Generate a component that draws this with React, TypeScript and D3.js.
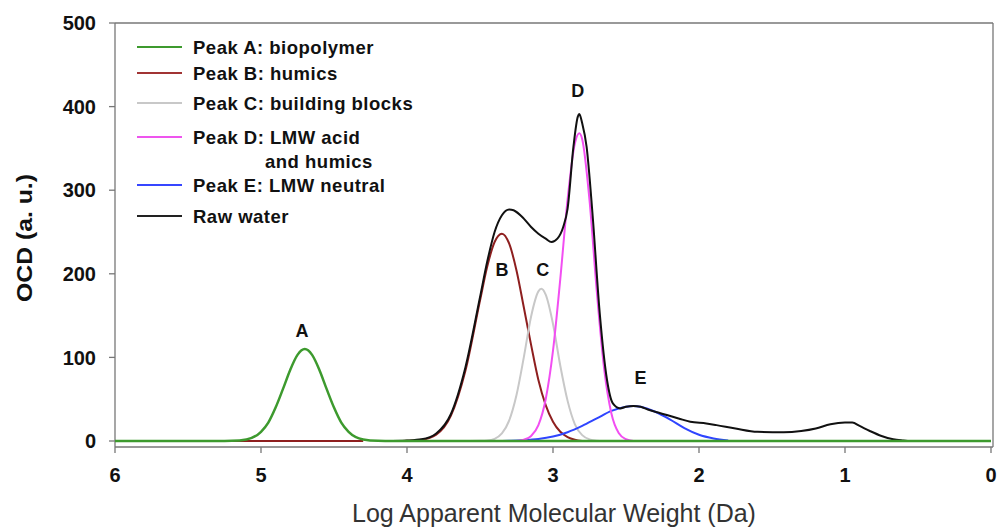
import React from "react";
import * as d3 from "d3";

// ---- data (log MW, OCD) ----
const peakA: [number, number][] = [
  [6, 0], [5.3, 0], [5.2, 0.2], [5.1, 1.9], [5.0, 11], [4.95, 22], [4.9, 40], [4.85, 62], [4.8, 85],
  [4.75, 103], [4.7, 110], [4.65, 103], [4.6, 85], [4.55, 62], [4.5, 40], [4.45, 22], [4.4, 11],
  [4.3, 1.9], [4.2, 0.2], [4.1, 0], [0, 0],
];
const peakB: [number, number][] = [
  [5.25, 0], [4.3, 0], [4.25, NaN], [4.08, 0], [4.0, 0.3], [3.9, 1.5], [3.8, 7.5], [3.7, 30], [3.6, 84],
  [3.5, 168], [3.45, 209], [3.4, 238], [3.35, 248], [3.3, 236], [3.25, 204], [3.2, 160],
  [3.15, 115], [3.1, 73], [3.05, 43], [3.0, 23], [2.95, 11], [2.9, 4.7], [2.85, 1.5], [2.8, 0],
];
const peakC: [number, number][] = [
  [3.6, 0], [3.5, 0.2], [3.45, 0.6], [3.4, 2.6], [3.35, 9], [3.3, 24.6], [3.25, 55], [3.2, 100],
  [3.15, 149], [3.1, 179], [3.08, 182], [3.05, 175], [3.0, 140], [2.95, 90], [2.9, 48],
  [2.85, 20], [2.8, 7], [2.75, 2], [2.7, 0.4], [2.65, 0],
];
const peakD: [number, number][] = [
  [3.25, 0], [3.2, 1.6], [3.15, 6], [3.1, 19], [3.05, 50], [3.0, 108], [2.95, 194], [2.9, 289],
  [2.85, 356], [2.82, 368], [2.8, 361], [2.75, 288], [2.7, 179], [2.65, 87], [2.6, 33],
  [2.55, 9.6], [2.5, 2.2], [2.45, 0],
];
const peakE: [number, number][] = [
  [3.42, 0], [3.3, 0.3], [3.2, 0.9], [3.1, 2.3], [3.0, 5.3], [2.9, 10.5], [2.8, 18], [2.7, 27],
  [2.6, 36], [2.5, 41], [2.45, 42], [2.4, 41], [2.3, 35], [2.2, 26], [2.1, 15.5], [2.0, 7.5],
  [1.9, 3], [1.8, 0.5],
];
const rawWater: [number, number][] = [
  [4.1, 0], [4.0, 0.5], [3.9, 2], [3.8, 9], [3.7, 32], [3.6, 88], [3.5, 172], [3.45, 215],
  [3.4, 250], [3.35, 270], [3.3, 277], [3.27, 276], [3.2, 266], [3.15, 256], [3.1, 248],
  [3.05, 242], [3.01, 238], [2.97, 242], [2.93, 256], [2.9, 278], [2.86, 352], [2.83, 388],
  [2.82, 391], [2.8, 380], [2.77, 352], [2.73, 273], [2.68, 153], [2.63, 73], [2.59, 45],
  [2.54, 39], [2.5, 41], [2.45, 42], [2.4, 41], [2.34, 37], [2.28, 34], [2.22, 31], [2.14, 27],
  [2.06, 23], [1.95, 21], [1.88, 19], [1.75, 15], [1.6, 11], [1.42, 10.5], [1.3, 12], [1.2, 15],
  [1.1, 20], [1.0, 22], [0.95, 22], [0.9, 18], [0.83, 12], [0.75, 6], [0.67, 2], [0.6, 0.5], [0.57, 0],
];

const xTicks = [6, 5, 4, 3, 2, 1, 0];
const yTicks = [0, 100, 200, 300, 400, 500];

const legendItems = [
  { label: ["Peak A: biopolymer"], color: "#3d9a2e" },
  { label: ["Peak B: humics"], color: "#a13434" },
  { label: ["Peak C: building blocks"], color: "#c8c8c8" },
  { label: ["Peak D: LMW acid", "and humics"], color: "#ee55ee" },
  { label: ["Peak E: LMW neutral"], color: "#3646ff" },
  { label: ["Raw water"], color: "#222222" },
];

const peakLabels = [
  { text: "A", x: 4.72, y: 124 },
  { text: "B", x: 3.35, y: 197 },
  { text: "C", x: 3.07, y: 197 },
  { text: "D", x: 2.83, y: 412 },
  { text: "E", x: 2.4, y: 68 },
];

export default function App() {
  const W = 1002, H = 529;
  const x = d3.scaleLinear().domain([6, 0]).range([115, 991]);
  const y = d3.scaleLinear().domain([0, 500]).range([441, 23]);
  const axisY = 447;
  const line = d3
    .line<[number, number]>()
    .defined((d) => !isNaN(d[1]))
    .x((d) => x(d[0]))
    .y((d) => y(d[1]))
    .curve(d3.curveMonotoneX);

  const font = "'Liberation Sans', Arial, sans-serif";

  const series = [
    { data: peakB, color: "#8e1f1f", w: 2 },
    { data: peakC, color: "#c8c8c8", w: 2 },
    { data: peakE, color: "#2f45ff", w: 2 },
    { data: peakD, color: "#f24ef2", w: 2 },
    { data: rawWater, color: "#111111", w: 2 },
    { data: peakA, color: "#3d9a2e", w: 2.5 },
  ];

  const legendRowsY = [47, 73, 103, 137, 185, 216];

  return (
    <svg width={W} height={H} style={{ position: "absolute", left: 0, top: 0, background: "#fff" }}>
      {/* frame */}
      <line x1={115} x2={993} y1={23} y2={23} stroke="#777" strokeWidth={1.3} />
      <line x1={993} x2={993} y1={23} y2={axisY} stroke="#777" strokeWidth={1.3} />
      <line x1={115} x2={115} y1={23} y2={axisY} stroke="#777" strokeWidth={1.3} />
      <line x1={115} x2={993} y1={axisY} y2={axisY} stroke="#777" strokeWidth={1.3} />
      {/* y ticks */}
      {yTicks.map((t) => (
        <g key={"y" + t}>
          <line x1={109} x2={115} y1={y(t)} y2={y(t)} stroke="#777" strokeWidth={1.3} />
          <text x={96} y={y(t)} dy="0.36em" textAnchor="end" fontFamily={font} fontWeight="bold" fontSize={20} fill="#111">
            {t}
          </text>
        </g>
      ))}
      {/* x ticks */}
      {xTicks.map((t) => (
        <g key={"x" + t}>
          <line x1={x(t)} x2={x(t)} y1={axisY} y2={axisY + 6} stroke="#777" strokeWidth={1.3} />
          <text x={x(t)} y={482} textAnchor="middle" fontFamily={font} fontWeight="bold" fontSize={20} fill="#111">
            {t}
          </text>
        </g>
      ))}
      {/* axis titles */}
      <text x={554} y={522} textAnchor="middle" fontFamily={font} fontSize={25} fill="#333">
        Log Apparent Molecular Weight (Da)
      </text>
      <text
        transform={`translate(32,238) rotate(-90)`}
        textAnchor="middle"
        fontFamily={font}
        fontWeight="bold"
        fontSize={22}
        textLength={128}
        lengthAdjust="spacingAndGlyphs"
        fill="#111"
      >
        OCD (a. u.)
      </text>
      {/* curves */}
      {series.map((s, i) => (
        <path key={i} d={line(s.data) || ""} fill="none" stroke={s.color} strokeWidth={s.w} strokeLinejoin="round" />
      ))}
      {/* peak labels */}
      {peakLabels.map((p) => (
        <text key={p.text} x={x(p.x)} y={y(p.y)} textAnchor="middle" fontFamily={font} fontWeight="bold" fontSize={18} fill="#111">
          {p.text}
        </text>
      ))}
      {/* legend */}
      {legendItems.map((it, i) => (
        <g key={i}>
          <line x1={137} x2={182} y1={legendRowsY[i]} y2={legendRowsY[i]} stroke={it.color} strokeWidth={2} />
          {it.label.map((l, j) => (
            <text
              key={j}
              x={j === 0 ? 193 : 265}
              y={legendRowsY[i] + (j === 0 ? 0 : 24)}
              dy="0.36em"
              fontFamily={font}
              fontWeight="bold"
              fontSize={18.5}
              letterSpacing={0.5}
              fill="#111"
            >
              {l}
            </text>
          ))}
        </g>
      ))}
    </svg>
  );
}
